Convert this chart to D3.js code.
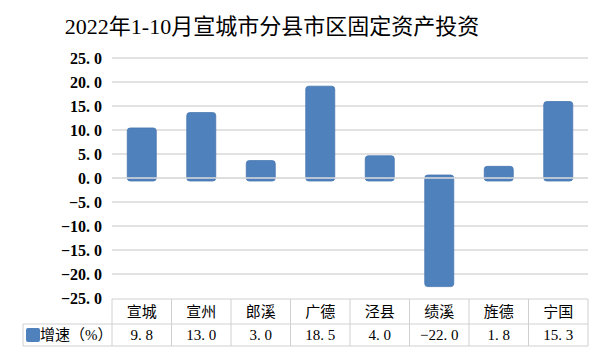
<!DOCTYPE html>
<html>
<head>
<meta charset="utf-8">
<script src="https://cdn.jsdelivr.net/npm/d3@7/dist/d3.min.js"></script>
<style>
body { margin: 0; background: #fff; }
text { font-family: "Liberation Serif", "Noto Sans CJK SC", serif; fill: #000; }
</style>
</head>
<body>
<svg id="chart" width="600" height="361"></svg>
<script>
// data
var titleText = "2022年1-10月宣城市分县市区固定资产投资";
var counties = ["宣城", "宣州", "郎溪", "广德", "泾县", "绩溪", "旌德", "宁国"];
var growth = [9.8, 13.0, 3.0, 18.5, 4.0, -22.0, 1.8, 15.3];
var seriesName = "增速（%）";
var yTicks = [25, 20, 15, 10, 5, 0, -5, -10, -15, -20, -25];

var svg = d3.select("#chart");
var plotL = 112, plotR = 588, plotT = 58, plotB = 298;

var x = d3.scaleBand().domain(counties).range([plotL, plotR]).paddingInner(0).paddingOuter(0);
var y = d3.scaleLinear().domain([-25, 25]).range([plotB, plotT]);

svg.append("text")
  .attr("x", 272).attr("y", 34)
  .attr("text-anchor", "middle")
  .style("font-size", "22px")
  .text(titleText);

// grid
svg.append("g").selectAll("line")
  .data(yTicks.filter(function(d) { return d != -25; }))
  .enter().append("line")
  .attr("x1", plotL).attr("x2", plotR)
  .attr("y1", function(d) { return y(d); })
  .attr("y2", function(d) { return y(d); })
  .attr("stroke", "#d9d9d9").attr("stroke-width", 1.3);

// y labels
var fmt = function(d) { return (d < 0 ? "\u2212" : "") + Math.abs(d).toFixed(1).replace(".", ". "); };
svg.append("g").selectAll("text")
  .data(yTicks)
  .enter().append("text")
  .attr("x", 102)
  .attr("y", function(d) { return y(d) + 5.5; })
  .attr("text-anchor", "end")
  .style("font-size", "16px")
  .style("font-weight", "bold")
  .text(fmt);

// bars
var bw = 29, pad = 3;
svg.append("g").selectAll("rect")
  .data(growth)
  .enter().append("rect")
  .attr("x", function(d, i) { return x(counties[i]) + x.bandwidth() / 2 - bw / 2; })
  .attr("y", function(d) { return Math.min(y(d), y(0)) - pad; })
  .attr("width", bw)
  .attr("height", function(d) { return Math.abs(y(d) - y(0)) + 2 * pad; })
  .attr("rx", 3)
  .attr("fill", "#4f81bd")
  .attr("stroke", "#4676b0")
  .attr("stroke-width", 0.8);

// zero line over bars
svg.append("line")
  .attr("x1", plotL).attr("x2", plotR)
  .attr("y1", y(0)).attr("y2", y(0))
  .attr("stroke", "#dcdcdc").attr("stroke-width", 1.3);

// data table
var r0 = 299, r1 = 324, r2 = 346, legLeft = 23;
var tbl = svg.append("g").attr("stroke", "#d0d0d0").attr("stroke-width", 1);
tbl.append("line").attr("x1", plotL).attr("x2", plotR).attr("y1", r0).attr("y2", r0);
tbl.append("line").attr("x1", legLeft).attr("x2", plotR).attr("y1", r1).attr("y2", r1);
tbl.append("line").attr("x1", legLeft).attr("x2", plotR).attr("y1", r2).attr("y2", r2);
tbl.append("line").attr("x1", legLeft).attr("x2", legLeft).attr("y1", r1).attr("y2", r2);
tbl.selectAll(".v")
  .data(counties.concat(["end"]))
  .enter().append("line")
  .attr("x1", function(d, i) { return plotL + i * x.bandwidth(); })
  .attr("x2", function(d, i) { return plotL + i * x.bandwidth(); })
  .attr("y1", r0).attr("y2", r2);

svg.append("g").selectAll("text")
  .data(counties)
  .enter().append("text")
  .attr("x", function(d) { return x(d) + x.bandwidth() / 2; })
  .attr("y", 317)
  .attr("text-anchor", "middle")
  .style("font-size", "15px")
  .text(function(d) { return d; });

svg.append("g").selectAll("text")
  .data(growth)
  .enter().append("text")
  .attr("x", function(d, i) { return x(counties[i]) + x.bandwidth() / 2; })
  .attr("y", 340)
  .attr("text-anchor", "middle")
  .style("font-size", "15px")
  .text(function(d) { return fmt(d); });

// legend key
svg.append("rect")
  .attr("x", 26).attr("y", 328).attr("width", 14).attr("height", 14)
  .attr("rx", 2).attr("fill", "#4f81bd");
svg.append("text")
  .attr("x", 40).attr("y", 340)
  .style("font-size", "15px")
  .text(seriesName);
</script>
</body>
</html>
